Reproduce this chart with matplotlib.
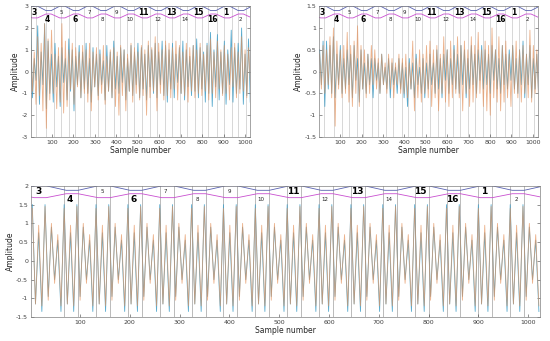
import numpy as np
import matplotlib
matplotlib.use("Agg")
import matplotlib.pyplot as plt
import matplotlib.transforms as mtransforms

# --- data (alternating peak / trough values) ---
tl_blue = [
    1.8, -1.2, 0.6, -0.4, 2.1, -1.5, 0.9, -0.6, 2.2, -1.7, 1.4, -1.0, 0.8, -1.4, 1.3, -0.7,
    0.7, -1.6, 1.1, -0.5, 0.6, -1.3, 1.5, -0.9, 1.0, -1.8, 0.7, -0.6, 1.2, -1.2, 0.9, -0.8,
    1.3, -1.0, 0.6, -1.4, 1.1, -0.7, 0.8, -1.1, 1.0, -0.6, 0.5, -1.3, 1.2, -0.9, 0.9, -1.2,
    1.4, -0.8, 0.7, -1.0, 1.1, -0.5, 1.0, -1.3, 0.6, -0.9, 1.2, -1.1, 0.9, -0.6, 1.3, -1.2,
    1.1, -0.8, 0.8, -1.3, 1.2, -0.7, 1.0, -1.0, 1.3, -1.2, 0.9, -0.6, 1.4, -1.1, 1.2, -1.4,
    1.0, -0.8, 1.3, -1.2, 0.8, -0.5, 1.1, -1.0, 1.4, -1.3, 1.0, -0.7, 0.7, -1.1, 1.2, -0.9,
    1.5, -1.2, 1.1, -0.8, 0.9, -1.4, 1.3, -1.0, 1.8, -1.6, 1.0, -0.7, 1.7, -1.3, 0.9, -1.0,
    1.4, -1.5, 1.0, -0.6, 1.9, -1.4, 1.1, -1.0, 1.3, -0.8, 2.0, -1.5, 0.8, -1.1, 1.5, -1.4,
]
tl_orange = [
    1.2, -0.9, 0.9, -1.5, 1.6, -1.1, 1.3, -1.8, 2.2, -2.6, 1.5, -1.3, 1.9, -1.0, 0.8, -1.7,
    1.1, -1.4, 2.2, -1.9, 1.4, -1.6, 1.0, -0.8, 1.3, -1.5, 1.1, -0.7, 0.9, -1.2, 1.2, -1.0,
    1.0, -1.4, 1.3, -1.8, 0.9, -0.7, 1.1, -1.3, 0.8, -1.0, 1.2, -1.5, 0.7, -0.9, 1.0, -1.2,
    1.1, -1.6, 0.9, -2.0, 1.2, -1.1, 1.0, -1.8, 0.8, -0.9, 1.3, -1.4, 1.1, -1.0, 0.9, -1.3,
    1.2, -1.1, 1.0, -2.0, 1.4, -1.2, 1.1, -0.9, 1.6, -1.8, 1.3, -1.0, 1.0, -1.3, 1.4, -1.1,
    1.3, -1.2, 1.1, -0.8, 1.4, -1.3, 1.2, -1.0, 0.9, -1.1, 1.3, -1.4, 1.1, -0.9, 1.2, -1.2,
    1.0, -1.0, 1.3, -1.1, 0.8, -0.9, 1.2, -1.3, 1.5, -1.0, 0.9, -1.2, 1.4, -0.8, 1.0, -1.1,
    1.2, -1.0, 0.8, -1.3, 1.1, -0.7, 1.3, -1.2, 0.9, -1.0, 1.6, -0.9, 1.0, -1.2, 1.1, -0.4,
]
tr_blue = [
    0.5, -0.3, 0.7, -0.8, 0.7, -0.4, 0.6, -0.5, 0.8, -0.6, 0.4, -0.3, 0.6, -0.5, 0.3, -0.4,
    0.5, -0.3, 0.4, -0.6, 0.6, -0.2, 0.3, -0.7, 0.5, -0.4, 0.2, -0.5, 0.4, -0.3, 0.3, -0.6,
    0.3, -0.2, 0.2, -0.5, 0.4, -0.3, 0.1, -0.4, 0.3, -0.6, 0.2, -0.3, 0.1, -0.5, 0.3, -0.4,
    0.2, -0.6, 0.1, -0.8, 0.3, -0.4, 0.2, -0.6, 0.4, -0.3, 0.1, -0.5, 0.3, -0.6, 0.2, -0.4,
    0.4, -0.3, 0.2, -0.5, 0.5, -0.4, 0.3, -0.6, 0.4, -0.2, 0.5, -0.5, 0.3, -0.3, 0.6, -0.4,
    0.4, -0.5, 0.6, -0.3, 0.5, -0.6, 0.3, -0.4, 0.6, -0.3, 0.4, -0.5, 0.5, -0.2, 0.6, -0.4,
    0.5, -0.3, 0.4, -0.5, 0.6, -0.2, 0.5, -0.4, 0.3, -0.5, 0.6, -0.3, 0.4, -0.4, 0.5, -0.2,
    0.6, -0.4, 0.3, -0.5, 0.5, -0.3, 0.7, -0.6, 0.4, -0.3, 0.6, -0.6, 0.3, -0.4, 0.4, -0.5,
]
tr_orange = [
    0.4, -0.4, 0.6, -0.5, 0.5, -0.3, 0.8, -0.6, 1.0, -1.25, 0.7, -0.4, 0.5, -0.6, 0.6, -0.5,
    0.9, -0.7, 0.6, -0.8, 0.7, -0.5, 1.05, -0.8, 0.6, -0.4, 0.5, -0.6, 0.4, -0.5, 0.6, -0.3,
    0.5, -0.4, 0.3, -0.5, 0.4, -0.3, 0.2, -0.5, 0.4, -0.4, 0.3, -0.6, 0.2, -0.3, 0.4, -0.5,
    0.3, -0.5, 0.4, -0.6, 0.2, -0.4, 0.7, -0.9, 0.3, -0.6, 0.5, -0.7, 0.4, -0.5, 0.6, -0.6,
    0.7, -0.8, 0.5, -0.6, 0.6, -0.9, 0.4, -0.5, 0.8, -0.7, 0.5, -0.8, 0.7, -0.6, 0.5, -0.5,
    0.8, -0.6, 0.6, -0.9, 0.7, -0.5, 0.5, -0.8, 0.8, -0.7, 0.6, -0.6, 0.9, -0.5, 0.5, -0.8,
    0.7, -0.9, 0.6, -1.0, 1.0, -0.6, 0.5, -0.7, 0.8, -0.9, 0.6, -0.7, 0.7, -0.6, 0.4, -0.8,
    0.6, -0.5, 0.7, -0.6, 0.5, -0.7, 0.6, -0.5, 0.4, -0.6, 0.95, -0.7, 0.6, -0.5, 0.5, -0.6,
]
# bottom panel: one row per 64-sample frame, peak/trough pairs
b_blue = [
    1.5, -1.15, 0.75, -1.35, 1.5, -0.95, 0.9, -0.5, 0.55, -1.35,
    1.5, -1.15, 0.75, -1.35, 1.5, -0.95, 0.9, -0.5, 0.55, -1.35,
    1.5, -1.15, 0.75, -1.35, 1.5, -0.95, 0.9, -0.5, 0.55, -1.35,
    1.5, -1.15, 0.75, -1.35, 1.5, -0.95, 0.9, -0.5, 0.55, -1.35,
    1.5, -1.15, 0.75, -1.35, 1.5, -0.95, 0.9, -0.5, 0.55, -1.35,
    1.5, -1.15, 0.75, -1.35, 1.5, -0.95, 0.9, -0.5, 0.55, -1.35,
    1.5, -1.15, 0.75, -1.35, 1.5, -0.95, 0.9, -0.5, 0.55, -1.35,
    1.5, -1.15, 0.75, -1.35, 1.5, -0.95, 0.9, -0.5, 0.55, -1.35,
    1.5, -1.15, 0.75, -1.35, 1.5, -0.95, 0.9, -0.5, 0.55, -1.35,
    1.5, -1.15, 0.75, -1.35, 1.5, -0.95, 0.9, -0.5, 0.55, -1.35,
    1.5, -1.15, 0.75, -1.35, 1.5, -0.95, 0.9, -0.5, 0.55, -1.35,
    1.5, -1.15, 0.75, -1.35, 1.5, -0.95, 0.9, -0.5, 0.55, -1.35,
    1.5, -1.15, 0.75, -1.35, 1.5, -0.95, 0.9, -0.5, 0.55, -1.35,
    1.5, -1.15, 0.75, -1.35, 1.5, -0.95, 0.9, -0.5, 0.55, -1.35,
    1.5, -1.15, 0.75, -1.35, 1.5, -0.95, 0.9, -0.5, 0.55, -1.35,
    1.5, -1.15, 0.75, -1.35, 1.5, -0.95, 0.9, -0.5, 0.55, -1.35,
]
b_orange = [
    1.4, -1.15, 0.95, -1.2, 1.45, -1.05, 1.0, -0.6, 0.7, -1.2,
    1.4, -1.15, 0.95, -1.2, 1.45, -1.05, 1.0, -0.6, 0.7, -1.2,
    1.4, -1.15, 0.95, -1.2, 1.45, -1.05, 1.0, -0.6, 0.7, -1.2,
    1.4, -1.15, 0.95, -1.2, 1.45, -1.05, 1.0, -0.6, 0.7, -1.2,
    1.4, -1.15, 0.95, -1.2, 1.45, -1.05, 1.0, -0.6, 0.7, -1.2,
    1.4, -1.15, 0.95, -1.2, 1.45, -1.05, 1.0, -0.6, 0.7, -1.2,
    1.4, -1.15, 0.95, -1.2, 1.45, -1.05, 1.0, -0.6, 0.7, -1.2,
    1.4, -1.15, 0.95, -1.2, 1.45, -1.05, 1.0, -0.6, 0.7, -1.2,
    1.4, -1.15, 0.95, -1.2, 1.45, -1.05, 1.0, -0.6, 0.7, -1.2,
    1.4, -1.15, 0.95, -1.2, 1.45, -1.05, 1.0, -0.6, 0.7, -1.2,
    1.4, -1.15, 0.95, -1.2, 1.45, -1.05, 1.0, -0.6, 0.7, -1.2,
    1.4, -1.15, 0.95, -1.2, 1.45, -1.05, 1.0, -0.6, 0.7, -1.2,
    1.4, -1.15, 0.95, -1.2, 1.45, -1.05, 1.0, -0.6, 0.7, -1.2,
    1.4, -1.15, 0.95, -1.2, 1.45, -1.05, 1.0, -0.6, 0.7, -1.2,
    1.4, -1.15, 0.95, -1.2, 1.45, -1.05, 1.0, -0.6, 0.7, -1.2,
    1.4, -1.15, 0.95, -1.2, 1.45, -1.05, 1.0, -0.6, 0.7, -1.2,
]

# frame labels along the top, in order
frame_labels = ["3", "4", "5", "6", "7", "8", "9", "10",
                "11", "12", "13", "14", "15", "16", "1", "2"]
bold_labels = {"3", "4", "6", "11", "13", "15", "16", "1"}

# vertical marker lines
top_marks = [25, 71, 107, 143, 177, 208, 247, 278, 312, 348, 387, 415, 449, 484, 519,
             557, 589, 627, 658, 697, 728, 767, 798, 829, 868, 902, 938, 969, 1005]
bottom_marks = [68, 96, 132, 160, 196, 224, 260, 288, 324, 352, 388, 416, 452, 480,
                516, 544, 580, 608, 644, 672, 708, 736, 772, 800, 836, 864, 900, 928,
                964, 992]

n_samples = 1024
frame_len = 64
xticks = list(range(100, 1001, 100))

BLUE = "#3c9cc6"
ORANGE = "#e4925c"


def draw_windows(ax, big):
    trans = mtransforms.blended_transform_factory(ax.transData, ax.transAxes)
    # knots of the two overlapping window envelopes (128-sample cycle)
    xs, yb, ym = [], [], []
    for k in range(-1, n_samples // 128 + 2):
        base = 128 * k
        for off, b, m in [(8, 1.0, 0.91), (32, 1.0, 0.91), (72, 0.966, 0.94), (96, 0.966, 0.94)]:
            xs.append(base + off)
            yb.append(b)
            ym.append(m)
    ax.plot(xs, yb, color="#5a62b0", lw=0.6, transform=trans, clip_on=True)
    ax.plot(xs, ym, color="#c94fd0", lw=0.6, transform=trans, clip_on=True)
    for i, lab in enumerate(frame_labels):
        x = i * frame_len + 16
        y = 0.955 if i % 2 == 0 else 0.895
        if lab in bold_labels:
            ax.text(x, y, lab, transform=trans, ha="center", va="center",
                    fontsize=6.5 if big else 5.5, fontweight="bold", color="black")
        else:
            ax.text(x, y, lab, transform=trans, ha="center", va="center",
                    fontsize=4, color="#222222")


def style(ax, ylim, yticks, yticklabels):
    ax.set_xlim(1, n_samples)
    ax.set_ylim(*ylim)
    ax.set_xticks(xticks)
    ax.set_xticklabels([str(t) for t in xticks])
    ax.set_yticks(yticks)
    ax.set_yticklabels(yticklabels)
    ax.tick_params(direction="in", length=2, width=0.4, labelsize=4.5,
                   colors="#404040", pad=2, top=False, right=True)
    for s in ax.spines.values():
        s.set_linewidth(0.5)
        s.set_color("#808080")
    ax.set_xlabel("Sample number", fontsize=5.5, labelpad=1, color="#262626")
    ax.set_ylabel("Amplitude", fontsize=5.5, labelpad=1, color="#262626")


def draw_signals(ax, blue, orange, pos):
    ax.plot(pos, blue, color=BLUE, lw=0.6, alpha=0.85)
    ax.plot(pos, orange, color=ORANGE, lw=0.6, alpha=0.7)


fig = plt.figure(figsize=(5.5, 3.41), dpi=100)

ax1 = fig.add_axes([0.056, 0.598, 0.399, 0.384])
ax2 = fig.add_axes([0.58, 0.598, 0.398, 0.384])
ax3 = fig.add_axes([0.056, 0.07, 0.926, 0.385])

pos_top = np.linspace(1, n_samples, len(tl_blue))
pos_bottom = np.arange(len(b_blue)) * (n_samples / len(b_blue)) + 4

for ax in (ax1, ax2):
    for m in top_marks:
        ax.axvline(m, color="#c8c8c8", lw=0.5, zorder=0)
for m in bottom_marks:
    ax3.axvline(m, color="#b0b0b0", lw=0.6, zorder=0)

draw_signals(ax1, tl_blue, tl_orange, pos_top)
draw_signals(ax2, tr_blue, tr_orange, pos_top + 3)
draw_signals(ax3, b_blue, b_orange, pos_bottom)

style(ax1, (-3, 3), [-3, -2, -1, 0, 1, 2, 3], ["-3", "-2", "-1", "0", "1", "2", "3"])
style(ax2, (-1.5, 1.5), [-1.5, -1, -0.5, 0, 0.5, 1, 1.5],
      ["-1.5", "-1", "-0.5", "0", "0.5", "1", "1.5"])
style(ax3, (-1.5, 2), [-1.5, -1, -0.5, 0, 0.5, 1, 1.5, 2],
      ["-1.5", "-1", "-0.5", "0", "0.5", "1", "1.5", "2"])

draw_windows(ax1, False)
draw_windows(ax2, False)
draw_windows(ax3, True)

fig.savefig("out.png", dpi=100)
